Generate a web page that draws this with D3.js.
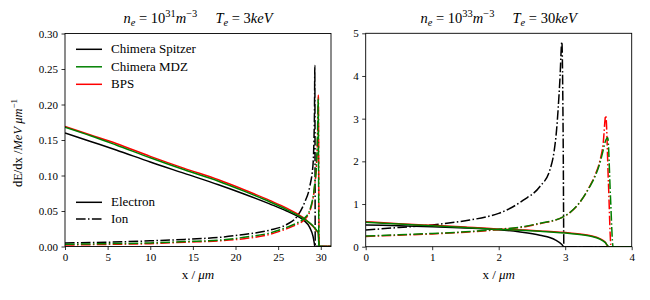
<!DOCTYPE html>
<html>
<head>
<meta charset="utf-8">
<script src="https://cdn.jsdelivr.net/npm/d3@7"></script>
<style>
  body { margin: 0; background: #fff; }
</style>
</head>
<body>
<div id="chart"></div>
<script>
// Tick values
const xTicksLeft = [0, 5, 10, 15, 20, 25, 30];
const yTicksLeft = [0, 0.05, 0.10, 0.15, 0.20, 0.25, 0.30];
const xTicksRight = [0, 1, 2, 3, 4];
const yTicksRight = [0, 1, 2, 3, 4, 5];

// Left panel: ne = 1e31, Te = 3 keV   [x (um), dE/dx (MeV/um)]
const leftSpitzerElectron = [[0,0.160],[3,0.148],[6,0.136],[10,0.119],[14,0.103],[18,0.087],[21,0.074],[24,0.060],[26,0.050],[27.2,0.043],[28.0,0.037],[28.7,0.027],[29.1,0.014],[29.25,0.004],[29.3,0],[31.2,0]];
const leftMDZElectron = [[0,0.168],[3,0.156],[6,0.143],[10,0.125],[14,0.108],[18,0.092],[21,0.078],[24,0.063],[26,0.052],[27.9,0.040],[28.6,0.034],[29.1,0.029],[29.5,0.023],[29.7,0.020],[29.75,0.008],[29.8,0],[31.2,0]];
const leftBPSElectron = [[0,0.169],[3,0.157],[6,0.145],[10,0.127],[14,0.110],[18,0.094],[21,0.080],[24,0.065],[26,0.054],[27.9,0.041],[28.6,0.034],[29.1,0.028],[29.5,0.022],[29.7,0.019],[29.78,0.008],[29.82,0],[31.2,0]];
const leftSpitzerIon = [[0,0.005],[5,0.006],[10,0.008],[14,0.010],[18.2,0.013],[21,0.017],[24,0.023],[26,0.031],[27.2,0.042],[28.1,0.062],[28.7,0.084],[29.1,0.117],[29.2,0.15],[29.27,0.20],[29.3,0.255],[29.33,0.12],[29.35,0],[31.2,0]];
const leftMDZIon = [[0,0.003],[5,0.004],[10,0.005],[14,0.007],[18.2,0.009],[21,0.013],[24,0.019],[26,0.027],[27.2,0.033],[28.1,0.040],[28.7,0.051],[29.3,0.089],[29.5,0.117],[29.62,0.16],[29.7,0.209],[29.74,0.12],[29.78,0],[31.2,0]];
const leftBPSIon = [[0,0.002],[5,0.003],[10,0.004],[14,0.006],[18.2,0.008],[21,0.011],[24,0.017],[26,0.025],[27.2,0.031],[28.1,0.038],[28.7,0.049],[29.3,0.087],[29.5,0.115],[29.64,0.16],[29.72,0.213],[29.76,0.12],[29.8,0],[31.2,0]];

// Right panel: ne = 1e33, Te = 30 keV
const rightSpitzerElectron = [[0,0.51],[0.5,0.49],[1,0.47],[1.5,0.44],[1.9,0.41],[2.3,0.35],[2.62,0.27],[2.85,0.16],[2.95,0.05],[2.98,0],[4,0]];
const rightMDZElectron = [[0,0.57],[0.5,0.53],[1,0.49],[1.5,0.45],[1.92,0.41],[2.4,0.38],[2.62,0.36],[3.07,0.31],[3.37,0.25],[3.52,0.18],[3.6,0.10],[3.66,0],[4,0]];
const rightBPSElectron = [[0,0.586],[0.5,0.54],[1,0.50],[1.5,0.46],[1.92,0.42],[2.4,0.39],[2.62,0.37],[3.07,0.32],[3.37,0.26],[3.52,0.19],[3.6,0.11],[3.65,0],[4,0]];
const rightSpitzerIon = [[0,0.39],[0.5,0.45],[1,0.51],[1.5,0.61],[1.87,0.72],[2.0,0.78],[2.37,1.09],[2.62,1.41],[2.77,1.80],[2.83,2.2],[2.87,2.73],[2.92,3.9],[2.95,4.8],[2.97,2.4],[2.98,0],[4,0]];
const rightMDZIon = [[0,0.25],[0.5,0.28],[1,0.31],[1.5,0.35],[1.92,0.40],[2.37,0.47],[2.62,0.55],[2.97,0.70],[3.07,0.80],[3.2,1.0],[3.37,1.41],[3.45,1.65],[3.52,1.95],[3.57,2.25],[3.6,2.45],[3.64,2.55],[3.68,1.2],[3.72,0],[4,0]];
const rightBPSIon = [[0,0.24],[0.5,0.27],[1,0.30],[1.5,0.34],[1.92,0.39],[2.37,0.46],[2.62,0.54],[2.97,0.70],[3.07,0.80],[3.2,1.0],[3.37,1.42],[3.45,1.68],[3.52,2.0],[3.57,2.4],[3.61,3.07],[3.65,1.5],[3.69,0],[4,0]];

const legendModels = ["Chimera Spitzer", "Chimera MDZ", "BPS"];
const legendKinds = ["Electron", "Ion"];

const colors = { spitzer: "#000000", mdz: "#008000", bps: "#ff0000" };
const dashDot = "9.6,2.4,1.5,2.4";
const serif = "'Liberation Serif', 'DejaVu Serif', serif";

const svg = d3.select("#chart").append("svg")
    .attr("width", 650)
    .attr("height", 300)
    .style("font-family", serif);

// write a little math-like label made of pieces: [text, style]; style may hold "i", "sub", "sup"
function mathText(sel, parts) {
    let shift = 0;
    sel.style("font-family", serif);
    parts.forEach(([t, s]) => {
        const ts = sel.append("tspan").text(t).style("font-family", serif);
        if (s.includes("i")) ts.style("font-style", "italic");
        let target = 0;
        if (s.includes("sub")) target = 3;
        if (s.includes("sup")) target = -5.5;
        ts.attr("dy", target - shift);
        if (target !== 0) ts.style("font-size", "0.72em");
        shift = target;
    });
}

function drawPanel(cfg) {
    const g = svg.append("g");
    const x = d3.scaleLinear().domain(cfg.xDomain).range([cfg.left, cfg.right]);
    const y = d3.scaleLinear().domain(cfg.yDomain).range([cfg.bottom, cfg.top]);

    const clipId = "clip-" + cfg.name;
    svg.append("clipPath").attr("id", clipId)
        .append("rect")
        .attr("x", cfg.left).attr("y", cfg.top)
        .attr("width", cfg.right - cfg.left).attr("height", cfg.bottom - cfg.top);

    const line = d3.line()
        .x(d => x(d[0]))
        .y(d => y(d[1]))
        .curve(d3.curveMonotoneX);

    const lines = g.append("g").attr("clip-path", `url(#${clipId})`);
    cfg.series.forEach(s => {
        lines.append("path")
            .datum(s.data)
            .attr("d", line)
            .attr("fill", "none")
            .attr("stroke", s.color)
            .attr("stroke-width", 1.5)
            .attr("stroke-dasharray", s.ion ? dashDot : null);
    });

    // Axes
    const xAxis = g.append("g")
        .attr("transform", `translate(0,${cfg.bottom})`)
        .call(d3.axisBottom(x).tickValues(cfg.xTicks).tickSize(3.5).tickPadding(3.5).tickFormat(cfg.xFormat));
    const yAxis = g.append("g")
        .attr("transform", `translate(${cfg.left},0)`)
        .call(d3.axisLeft(y).tickValues(cfg.yTicks).tickSize(3.5).tickPadding(3.5).tickFormat(cfg.yFormat));
    [xAxis, yAxis].forEach(a => {
        a.attr("font-family", null).attr("font-size", null);
        a.select(".domain").remove();
        a.selectAll("line").attr("stroke", "#000").attr("stroke-width", 0.8);
        a.selectAll("text").style("font-size", "11px")
            .style("font-family", serif).attr("fill", "#000");
    });

    // Frame
    g.append("rect")
        .attr("x", cfg.left).attr("y", cfg.top)
        .attr("width", cfg.right - cfg.left).attr("height", cfg.bottom - cfg.top)
        .attr("fill", "none").attr("stroke", "#000").attr("stroke-width", 0.9);

    // Title
    const title = g.append("text")
        .attr("x", (cfg.left + cfg.right) / 2)
        .attr("y", 22.5)
        .attr("text-anchor", "middle")
        .style("font-size", "14.5px");
    mathText(title, cfg.title);

    // X label
    const xl = g.append("text")
        .attr("x", (cfg.left + cfg.right) / 2)
        .attr("y", 279)
        .attr("text-anchor", "middle")
        .style("font-size", "13px");
    mathText(xl, [["x /", ""], ["\u00a0\u03bcm", "i"]]);

    return { g, x, y };
}

drawPanel({
    name: "left",
    left: 65, right: 331, top: 33.5, bottom: 246.5,
    xDomain: [0, 31.2], yDomain: [0, 0.30],
    xTicks: xTicksLeft, yTicks: yTicksLeft,
    xFormat: d3.format("d"), yFormat: d3.format(".2f"),
    title: [["n", "i"], ["e", "isub"], ["\u00a0=\u00a010", ""], ["31", "sup"], ["m", "i"], ["\u22123", "sup"], ["\u2003\u00a0T", "i"], ["e", "isub"], ["\u00a0=\u00a03", ""], ["keV", "i"]],
    series: [
        { data: leftSpitzerElectron, color: colors.spitzer, ion: false },
        { data: leftSpitzerIon, color: colors.spitzer, ion: true },
        { data: leftBPSElectron, color: colors.bps, ion: false },
        { data: leftBPSIon, color: colors.bps, ion: true },
        { data: leftMDZElectron, color: colors.mdz, ion: false },
        { data: leftMDZIon, color: colors.mdz, ion: true }
    ]
});

drawPanel({
    name: "right",
    left: 365.7, right: 631.7, top: 33.3, bottom: 246.7,
    xDomain: [0, 4], yDomain: [0, 5],
    xTicks: xTicksRight, yTicks: yTicksRight,
    xFormat: d3.format("d"), yFormat: d3.format("d"),
    title: [["n", "i"], ["e", "isub"], ["\u00a0=\u00a010", ""], ["33", "sup"], ["m", "i"], ["\u22123", "sup"], ["\u2003\u00a0T", "i"], ["e", "isub"], ["\u00a0=\u00a030", ""], ["keV", "i"]],
    series: [
        { data: rightSpitzerElectron, color: colors.spitzer, ion: false },
        { data: rightSpitzerIon, color: colors.spitzer, ion: true },
        { data: rightBPSElectron, color: colors.bps, ion: false },
        { data: rightBPSIon, color: colors.bps, ion: true },
        { data: rightMDZElectron, color: colors.mdz, ion: false },
        { data: rightMDZIon, color: colors.mdz, ion: true }
    ]
});

// Y label (left panel)
const yl = svg.append("text")
    .attr("transform", "translate(22,143) rotate(-90)")
    .attr("text-anchor", "middle")
    .style("font-size", "12.5px");
mathText(yl, [["dE/dx /", ""], ["MeV\u00a0\u03bcm", "i"], ["\u22121", "sup"]]);

// Legends
const legendColors = [colors.spitzer, colors.mdz, colors.bps];
const leg1 = svg.append("g");
legendModels.forEach((name, i) => {
    const yy = 49.3 + i * 17.5;
    leg1.append("line").attr("x1", 76).attr("x2", 102).attr("y1", yy).attr("y2", yy)
        .attr("stroke", legendColors[i]).attr("stroke-width", 1.5);
    leg1.append("text").attr("x", 111).attr("y", yy + 4).style("font-size", "13px")
        .style("font-family", serif).text(name);
});

const leg2 = svg.append("g");
legendKinds.forEach((name, i) => {
    const yy = 202.3 + i * 16.7;
    leg2.append("line").attr("x1", 76).attr("x2", 102).attr("y1", yy).attr("y2", yy)
        .attr("stroke", "#000").attr("stroke-width", 1.5)
        .attr("stroke-dasharray", i === 1 ? dashDot : null);
    leg2.append("text").attr("x", 111).attr("y", yy + 4).style("font-size", "13px")
        .style("font-family", serif).text(name);
});
</script>
</body>
</html>
